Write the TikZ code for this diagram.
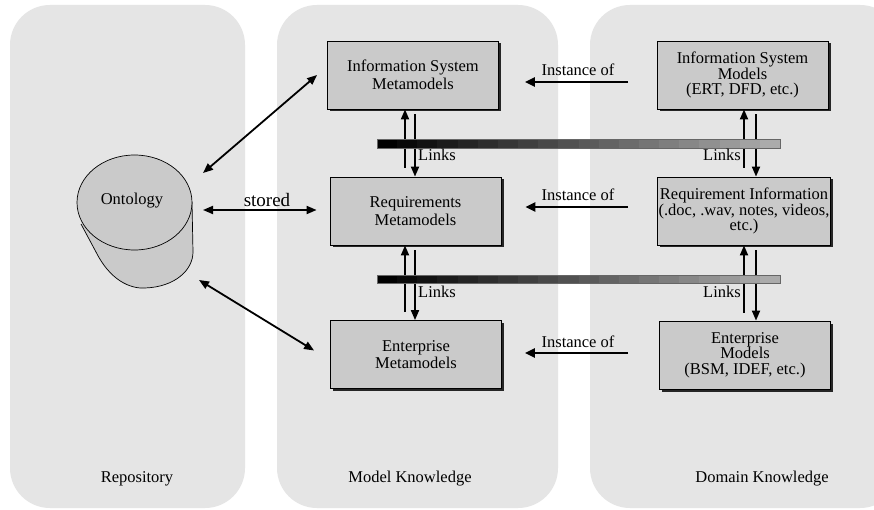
\documentclass[tikz,border=0pt]{standalone}
\usepackage{fontspec}
\setmainfont{Liberation Serif}
\usetikzlibrary{arrows.meta,shadows,calc}
\definecolor{panelgray}{HTML}{E5E5E5}
\definecolor{boxgray}{HTML}{CACACA}
\begin{document}
\begin{tikzpicture}[x=1pt,y=-1pt,
  panel/.style={fill=panelgray, rounded corners=40pt},
  box/.style={draw=black, line width=0.8pt, fill=boxgray, minimum width=171pt, minimum height=68pt,
    align=center, inner sep=1pt, font=\fontsize{16.5}{17.5}\selectfont,
    drop shadow={shadow xshift=2.5pt, shadow yshift=-2.5pt, fill=black!85, opacity=1}},
  lbl/.style={font=\fontsize{16.5}{18}\selectfont, inner sep=0pt, anchor=base},
  arr/.style={line width=1.8pt, -{Triangle[length=10pt,width=8pt]}},
  darr/.style={line width=1.8pt, {Triangle[length=10pt,width=8pt]}-{Triangle[length=10pt,width=8pt]}},
  inst/.style={line width=2.6pt, -{Triangle[length=10pt,width=9pt]}}
]
\useasboundingbox (0,0) rectangle (874,510);
\fill[white] (0,0) rectangle (874,510);
\clip (0,0) rectangle (874,510);

% panels
\fill[panel] (10,5) rectangle (245,508);
\fill[panel] (277,5) rectangle (558,508);
\fill[panel] (590,5) rectangle (900,508);

\node[lbl] (prep) at (137,482) {Repository};
\node[lbl] (pmod) at (410,482) {Model Knowledge};
\node[lbl] (pdom) at (762,482) {Domain Knowledge};

% ontology cylinder
\fill[boxgray] (81,224) -- (96,252) .. controls (110,280) and (130,289) .. (145,288)
   .. controls (175,287) and (193,270) .. (193,252) -- (192,202) -- cycle;
\draw[line width=0.7pt] (81,224) -- (96,252) .. controls (110,280) and (130,289) .. (145,288)
   .. controls (175,287) and (193,270) .. (193,252) -- (192,202);
\filldraw[fill=boxgray, draw=black, line width=0.7pt] (134.5,202.5) ellipse [x radius=57.5, y radius=47.5];
\node[lbl] (onto) at (132,205) {Ontology};

% boxes
\node[box] (ism) at (413,75) {Information System\\Metamodels};
\node[box] (rm)  at (415.5,211) {Requirements\\Metamodels};
\node[box] (em)  at (416,354.5) {Enterprise\\Metamodels};
\node[box, font=\fontsize{16.5}{15.5}\selectfont] (ismod) at (742.5,75) {Information System\\Models\\(ERT, DFD, etc.)};
\node[box, font=\fontsize{16.5}{15.5}\selectfont] (ri) at (744,211) {Requirement Information\\(.doc, .wav, notes, videos,\\etc.)};
\node[box, font=\fontsize{16.5}{15.5}\selectfont] (emod) at (745,355) {Enterprise\\Models\\(BSM, IDEF, etc.)};

% ontology arrows
\coordinate (o1) at (203,173);
\coordinate (o2) at (203,210);
\coordinate (o3) at (199,280);
\draw[darr] (o1) -- ($(ism.west)+(-10,0)$);
\draw[darr] (o2) -- ($(rm.west)+(-13,-1)$);
\draw[darr] (o3) -- ($(em.west)+(-16,-4)$);
\node[inner sep=0pt, anchor=base, font=\fontsize{19}{20}\selectfont] (stored) at (267,207) {stored};

% instance of arrows
\coordinate (i1) at (628,82);
\coordinate (i2) at (628,207);
\coordinate (i3) at (628,353);
\draw[inst] (i1) -- ($(i1 -| ism.east)+(26,0)$);
\draw[inst] (i2) -- ($(i2 -| rm.east)+(24,0)$);
\draw[inst] (i3) -- ($(i3 -| em.east)+(23,0)$);
\node[lbl] (l1) at (578,76) {Instance of};
\node[lbl] (l2) at (578,201) {Instance of};
\node[lbl] (l3) at (578,347) {Instance of};

% links arrows (left)
\draw[arr] ($(rm.north)+(-10.5,-9)$) -- ($(ism.south)+(-8,0)$);
\draw[arr] ($(ism.south)+(2,5)$) -- ($(rm.north)+(-0.5,0)$);
\draw[arr] ($(em.north)+(-11,-8)$) -- ($(rm.south)+(-10.5,0)$);
\draw[arr] ($(rm.south)+(-0.5,5)$) -- ($(em.north)+(-1,0)$);
% links arrows (right)
\draw[arr] ($(ri.north)+(0,-9)$) -- ($(ismod.south)+(1.5,0)$);
\draw[arr] ($(ismod.south)+(13.5,5)$) -- ($(ri.north)+(12,0)$);
\draw[arr] ($(emod.north)+(-1,-8)$) -- ($(ri.south)+(0,0)$);
\draw[arr] ($(ri.south)+(12,5)$) -- ($(emod.north)+(11,0)$);

% stepped gradient bars
\foreach \i in {0,...,19}{
  \pgfmathsetmacro{\shadeval}{100-67*\i/19}
  \fill[black!\shadeval] ({377+\i*20.15},139) rectangle ({377+(\i+1)*20.15+0.3},148);
  \fill[black!\shadeval] ({377+\i*20.15},275) rectangle ({377+(\i+1)*20.15+0.3},283);
}
\draw[black!60, line width=0.4pt] (377,139) rectangle (780,148);
\draw[black!60, line width=0.4pt] (377,275) rectangle (780,283);

\node[lbl] (k1) at (437,161) {Links};
\node[lbl] (k2) at (722,161) {Links};
\node[lbl] (k3) at (437,297) {Links};
\node[lbl] (k4) at (722,297) {Links};
\end{tikzpicture}
\end{document}
